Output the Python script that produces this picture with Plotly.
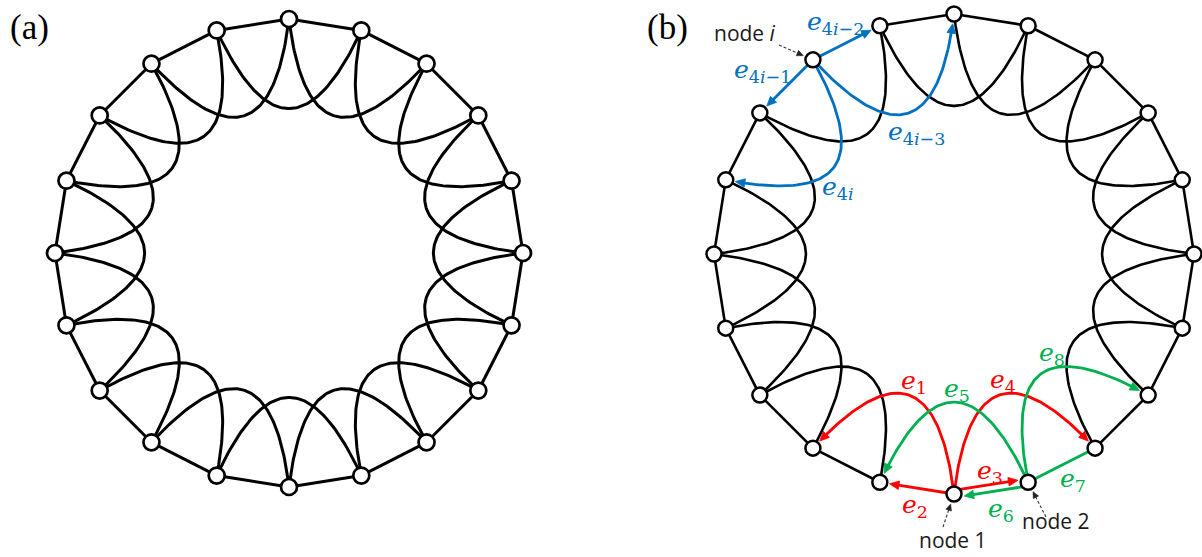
import numpy as np
import plotly.graph_objects as go

# ---------------------------------------------------------------------------
# Graph description
# ---------------------------------------------------------------------------
N_NODES = 20                 # nodes on each ring
NODE1_ANGLE = 270            # node 1 sits at the bottom of the ring
ANGLE_STEP = 360 / N_NODES   # nodes numbered counter-clockwise

# highlighted, directed edges of panel (b)
EDGE_SRC = [13, 13, 13, 13, 1, 1, 1, 1, 2, 2, 2, 2]
EDGE_DST = [11, 12, 14, 15, 19, 20, 2, 3, 20, 1, 3, 4]
EDGE_GROUP = ["blue"] * 4 + ["red"] * 4 + ["green"] * 4
EDGE_ARROW = [True] * 4 + [True] * 4 + [True, True, False, True]
EDGE_LABEL = [
    "<i>e</i><sub>4<i>i</i>−3</sub>", "<i>e</i><sub>4<i>i</i>−2</sub>",
    "<i>e</i><sub>4<i>i</i>−1</sub>", "<i>e</i><sub>4<i>i</i></sub>",
    "<i>e</i><sub>1</sub>", "<i>e</i><sub>2</sub>",
    "<i>e</i><sub>3</sub>", "<i>e</i><sub>4</sub>",
    "<i>e</i><sub>5</sub>", "<i>e</i><sub>6</sub>",
    "<i>e</i><sub>7</sub>", "<i>e</i><sub>8</sub>",
]

# named nodes of panel (b)
NAMED_NODES = [13, 1, 2]
NAMED_TEXT = ["node <i>i</i>", "node 1", "node 2"]

PANEL_TITLES = ["(a)", "(b)"]

# ---------------------------------------------------------------------------
# Layout / style (pixel space, y pointing down)
# ---------------------------------------------------------------------------
W, H = 1202, 557
RING_A = (289, 253, 234)     # centre x, centre y, radius
RING_B = (954, 254, 240)

COLORS = {"blue": "#0070C0", "red": "#FF0000", "green": "#00B050"}

EDGE_LABEL_XY = [(916, 133), (835, 23), (762, 71), (838, 188),
                 (914, 382), (915, 506), (990, 472), (1003, 381),
                 (957, 390), (1001, 510), (1073, 480), (1052, 354)]
# parallel offset (toward ring centre) for the doubled 1<->2 link
EDGE_SHIFT = [0, 0, 0, 0, 0, 0, 3.6, 0, 0, -3.6, 0, 0]

NAMED_TEXT_XY = [(745, 33), (953, 540), (1056, 521)]
POINTER_START = [(779, 45), (943, 527), (1046, 517)]

PANEL_TITLE_XY = [(29, 27), (667, 27)]

ARC_ANGLE = np.radians(65)   # departure angle of curved links from the chord
ARC_ARM = 0.795              # Bezier arm length relative to the chord


def node_xy(ring, k):
    cx, cy, r = ring
    a = np.radians(NODE1_ANGLE + ANGLE_STEP * (k - 1))
    return np.array([cx + r * np.cos(a), cy - r * np.sin(a)])


def inward_normal(p0, p3, ring):
    chord = p3 - p0
    t = chord / np.hypot(*chord)
    nrm = np.array([-t[1], t[0]])
    if np.dot(np.array(ring[:2]) - (p0 + p3) / 2, nrm) < 0:
        nrm = -nrm
    return t, nrm


def link_points(ring, a, b, shift=0.0, n=90):
    p0, p3 = node_xy(ring, a), node_xy(ring, b)
    t, nrm = inward_normal(p0, p3, ring)
    step = (b - a) % N_NODES
    if step in (1, N_NODES - 1):
        s = np.linspace(0, 1, n)[:, None]
        return p0 + shift * nrm + s * (p3 - p0)
    L = np.hypot(*(p3 - p0))
    arm = ARC_ARM * L
    p1 = p0 + arm * (np.cos(ARC_ANGLE) * t + np.sin(ARC_ANGLE) * nrm)
    p2 = p3 + arm * (-np.cos(ARC_ANGLE) * t + np.sin(ARC_ANGLE) * nrm)
    s = np.linspace(0, 1, n)[:, None]
    return ((1 - s) ** 3 * p0 + 3 * (1 - s) ** 2 * s * p1
            + 3 * (1 - s) * s ** 2 * p2 + s ** 3 * p3)


def point_at(pts, end, dist):
    d = np.hypot(*(pts - end).T)
    idx = np.where(d >= dist)[0][-1]
    if idx == len(pts) - 1:
        return pts[idx], idx
    d0, d1 = d[idx], d[idx + 1]
    f = (d0 - dist) / (d0 - d1) if d0 != d1 else 0
    return pts[idx] + f * (pts[idx + 1] - pts[idx]), idx


def arrowize(pts, end, tip_r, alen, hw):
    tip, _ = point_at(pts, end, tip_r)
    base, _ = point_at(pts, end, tip_r + alen)
    u = (tip - base) / np.hypot(*(tip - base))
    perp = np.array([-u[1], u[0]])
    tri = np.array([tip, base + hw * perp, base - hw * perp, tip])
    cut, idx = point_at(pts, end, tip_r + 0.6 * alen)
    line = np.vstack([pts[:idx + 1], cut])
    return line, tri


def append(xs, ys, pts):
    xs.extend(list(pts[:, 0]) + [None])
    ys.extend(list(pts[:, 1]) + [None])


fig = go.Figure()

# ---------------- black links ----------------
highlighted = {frozenset((s, d)) for s, d in zip(EDGE_SRC, EDGE_DST)}
for ring, lw, skip in ((RING_A, 3.0, set()), (RING_B, 2.6, highlighted)):
    xs, ys = [], []
    for k in range(1, N_NODES + 1):
        for step in (1, 2):
            j = (k - 1 + step) % N_NODES + 1
            if frozenset((k, j)) in skip:
                continue
            append(xs, ys, link_points(ring, k, j))
    fig.add_trace(go.Scatter(x=xs, y=ys, mode="lines", hoverinfo="skip",
                             line=dict(color="black", width=lw),
                             showlegend=False))

# ---------------- highlighted links ----------------
heads = {g: ([], []) for g in COLORS}
for src, dst, grp, arrow, shift in zip(EDGE_SRC, EDGE_DST, EDGE_GROUP,
                                       EDGE_ARROW, EDGE_SHIFT):
    pts = link_points(RING_B, src, dst, shift)
    if arrow:
        end = node_xy(RING_B, dst)
        if shift:
            _, nrm = inward_normal(node_xy(RING_B, src), end, RING_B)
            end = end + shift * nrm
        pts, tri = arrowize(pts, end, 9.8, 9.5, 4.3)
        append(*heads[grp], tri)
    xs, ys = [], []
    append(xs, ys, pts)
    fig.add_trace(go.Scatter(x=xs, y=ys, mode="lines", hoverinfo="skip",
                             line=dict(color=COLORS[grp], width=2.8),
                             showlegend=False))

# ---------------- nodes ----------------
for ring, size, lw in ((RING_A, 16, 2.7), (RING_B, 15, 2.5)):
    xy = np.array([node_xy(ring, k) for k in range(1, N_NODES + 1)])
    fig.add_trace(go.Scatter(
        x=xy[:, 0], y=xy[:, 1], mode="markers", hoverinfo="skip",
        marker=dict(size=size, color="white",
                    line=dict(color="black", width=lw)),
        showlegend=False))

# ---------------- arrow heads ----------------
for grp, (xs, ys) in heads.items():
    fig.add_trace(go.Scatter(x=xs, y=ys, mode="lines", fill="toself",
                             fillcolor=COLORS[grp], hoverinfo="skip",
                             line=dict(color=COLORS[grp], width=0.8),
                             showlegend=False))

# ---------------- dashed pointers to named nodes ----------------
pxs, pys, hx, hy = [], [], [], []
for k, start in zip(NAMED_NODES, POINTER_START):
    end = node_xy(RING_B, k)
    pts = np.array(start, float)[None, :] + np.linspace(0, 1, 40)[:, None] * (
        end - np.array(start, float))
    line, tri = arrowize(pts, end, 10.5, 6.5, 3.0)
    append(pxs, pys, line)
    append(hx, hy, tri)
fig.add_trace(go.Scatter(x=pxs, y=pys, mode="lines", hoverinfo="skip",
                         line=dict(color="#333333", width=1.1, dash="3px,2px"),
                         showlegend=False))
fig.add_trace(go.Scatter(x=hx, y=hy, mode="lines", fill="toself",
                         fillcolor="#222222", hoverinfo="skip",
                         line=dict(color="#222222", width=0.5),
                         showlegend=False))

# ---------------- text ----------------
annotations = []
for text, (x, y), grp in zip(EDGE_LABEL, EDGE_LABEL_XY, EDGE_GROUP):
    annotations.append(dict(
        x=x, y=y, xref="x", yref="y", text=text, showarrow=False,
        font=dict(family="DejaVu Serif", size=25, color=COLORS[grp])))
for text, (x, y) in zip(NAMED_TEXT, NAMED_TEXT_XY):
    annotations.append(dict(
        x=x, y=y, xref="x", yref="y", text=text, showarrow=False,
        font=dict(family="Open Sans", size=21, color="#1a1a1a")))
for text, (x, y) in zip(PANEL_TITLES, PANEL_TITLE_XY):
    annotations.append(dict(
        x=x, y=y, xref="x", yref="y", text=text, showarrow=False,
        font=dict(family="Liberation Serif", size=35, color="black")))

fig.update_layout(
    width=W, height=H,
    margin=dict(l=0, r=0, t=0, b=0),
    paper_bgcolor="white", plot_bgcolor="white",
    xaxis=dict(range=[0, W], visible=False, fixedrange=True),
    yaxis=dict(range=[H, 0], visible=False, fixedrange=True),
    annotations=annotations,
    showlegend=False,
)

fig.write_html("out.html")
